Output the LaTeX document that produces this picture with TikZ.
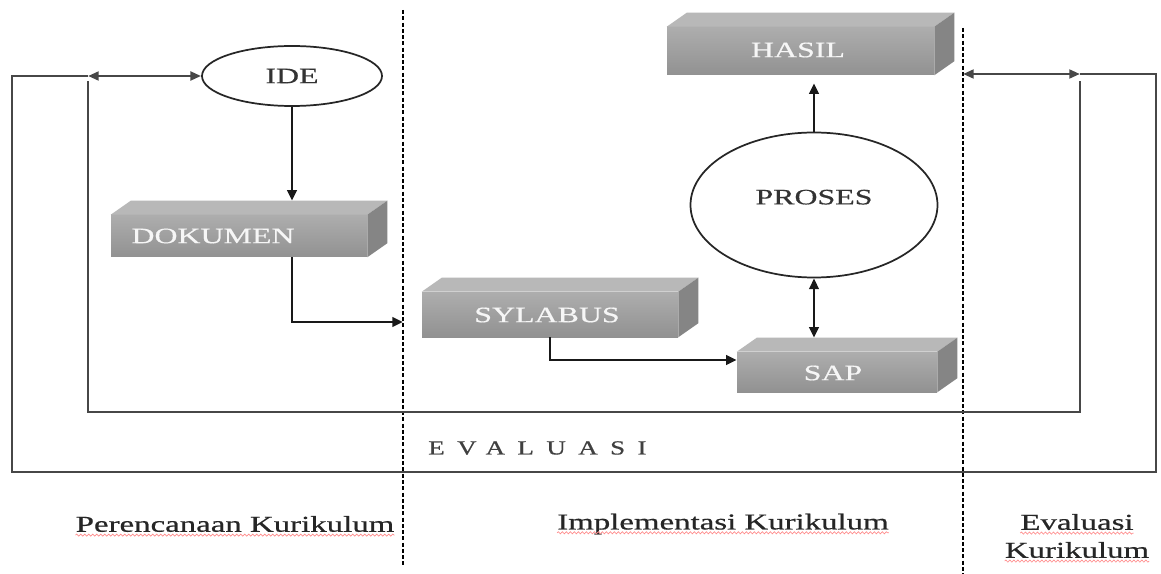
\documentclass[tikz,border=0pt]{standalone}
\usepackage{fontspec}
\setmainfont{Liberation Serif}
\newfontfamily\wideserif[FakeStretch=1.45,FakeBold=0.6]{Liberation Serif}
\newfontfamily\spacedserif[FakeStretch=1.35,FakeBold=0.6,LetterSpace=62]{Liberation Serif}
\usetikzlibrary{arrows.meta,shapes.geometric,calc,decorations.pathmorphing}
\definecolor{frontTop}{gray}{0.68}
\definecolor{frontBot}{gray}{0.57}
\definecolor{topFace}{gray}{0.72}
\definecolor{sideFace}{gray}{0.52}
\newcommand\boxthreed[5]{%
  \node[frontface, minimum width={(#4-#2)*0.75pt}, minimum height={(#5-#3)*0.75pt}] (#1) at ({(#2+#4)/2},{(#3+#5)/2}) {};
  \fill[topFace] (#1.north west) -- ++(20,-14) -- ([shift={(20,-14)}]#1.north east) -- (#1.north east) -- cycle;
  \fill[sideFace] (#1.north east) -- ++(20,-14) -- ([shift={(20,-14)}]#1.south east) -- (#1.south east) -- cycle;
  \coordinate (#1-back) at ([shift={(10,-14)}]#1.north);
}
\begin{document}
\begin{tikzpicture}[x=0.75pt,y=-0.75pt,
  conn/.style={line width=2.1pt, black!90},
  arr/.style={conn,-{Triangle[length=8pt,width=7pt]}},
  darr/.style={conn,{Triangle[length=8pt,width=7pt]}-{Triangle[length=8pt,width=7pt]}},
  loopline/.style={line width=2pt, black!72},
  looparr/.style={loopline,{Triangle[length=8pt,width=6.5pt]}-{Triangle[length=8pt,width=6.5pt]}},
  divider/.style={line width=2pt, dash pattern=on 3pt off 1.7pt},
  frontface/.style={draw=none, inner sep=0pt, top color=frontTop, bottom color=frontBot},
  boxtext/.style={font=\wideserif\fontsize{16.5}{18}\selectfont, text=white!93!gray},
  ovaltext/.style={font=\wideserif\fontsize{16.5}{18}\selectfont, text=black!80},
  oval/.style={ellipse, draw=black!85, line width=1.3pt, inner sep=0pt},
  lbl/.style={font=\wideserif\fontsize{17}{21}\selectfont, text=black!85, inner sep=0pt},
  squig/.style={draw=red!45, line width=0.5pt, decorate, decoration={snake, amplitude=0.8pt, segment length=3pt}}
]
\useasboundingbox (0,0) rectangle (1161,574);
\fill[white] (0,0) rectangle (1161,574);

% dividers
\coordinate (D1t) at (403,10);
\coordinate (D1b) at (403,566);
\coordinate (D2t) at (963,28);
\coordinate (D2b) at (963,574);
\draw[divider] (D1t) -- (D1b);
\draw[divider] (D2t) -- (D2b);

% boxes
\boxthreed{hasil}{667}{27}{934}{75}
\boxthreed{dok}{111}{215}{367}{257}
\boxthreed{syl}{422}{292}{678}{337}
\boxthreed{sap}{737}{352}{937}{392}
\node[boxtext] (hasilt) at (798,50) {HASIL};
\node[boxtext] (dokt) at (213,236) {DOKUMEN};
\node[boxtext] (sylt) at (547,315) {SYLABUS};
\node[boxtext] (sapt) at (833,373) {SAP};

% ellipses
\node[oval, ovaltext, minimum width={180*0.75pt}, minimum height={60*0.75pt}] (ide) at (292,76) {IDE};
\node[oval, ovaltext, text height=12pt, text depth=13pt, minimum width={247*0.75pt}, minimum height={145*0.75pt}] (proses) at (814,205) {PROSES};

% evaluation loops
\coordinate (LT) at (12,76);
\coordinate (LB) at (12,472);
\coordinate (RT) at (1156,74);
\coordinate (RB) at (1156,472);
\coordinate (ILT) at (88,76);
\coordinate (ILB) at (88,412);
\coordinate (IRB) at (1080,412);
\coordinate (IRT) at (1080,74);
\coordinate (DR) at (963,74);
\draw[loopline] (ILT) -- (LT) -- (LB) -- (RB) -- (RT) -- (IRT);
\draw[loopline] ([yshift=-4pt]ILT) -- (ILB) -- (IRB) -- ([yshift=-5pt]IRT);
\draw[looparr] (ILT) -- (ide.west);
\draw[looparr] (DR) -- (IRT);

% flow connectors
\coordinate (D1m) at (403,322);
\draw[arr] (ide.south) -- (ide.south |- dok-back);
\draw[arr] (dok.south -| ide.south) |- (D1m);
\draw[arr] (syl.south) |- ([yshift=9pt]sap.west);
\draw[darr] (proses.south) -- (proses.south |- sap-back);
\draw[arr] (proses.north) -- ([yshift=-6pt]proses.north |- hasil.south);

% texts
\node[anchor=west, font=\spacedserif\fontsize{15}{16}\selectfont, text=black!75, inner sep=0pt] (ev) at (428,448) {EVALUASI};
\node[lbl] (plan) at (235,524) {Perencanaan Kurikulum};
\node[lbl] (impl) at (723,524) {Implementasi Kurikulum};
\node[lbl] (evk1) at (1077,522) {Evaluasi};
\node[lbl] (evk2) at (1077,550) {Kurikulum};
\draw[squig] ([yshift=-2.5pt]plan.base west) -- ([yshift=-2.5pt]plan.base east);
\draw[squig] ([yshift=-2.5pt]impl.base west) -- ([yshift=-2.5pt]impl.base east);
\draw[squig] ([yshift=-2.5pt]evk1.base west) -- ([yshift=-2.5pt]evk1.base east);
\draw[squig] ([yshift=-2.5pt]evk2.base west) -- ([yshift=-2.5pt]evk2.base east);
\end{tikzpicture}
\end{document}
